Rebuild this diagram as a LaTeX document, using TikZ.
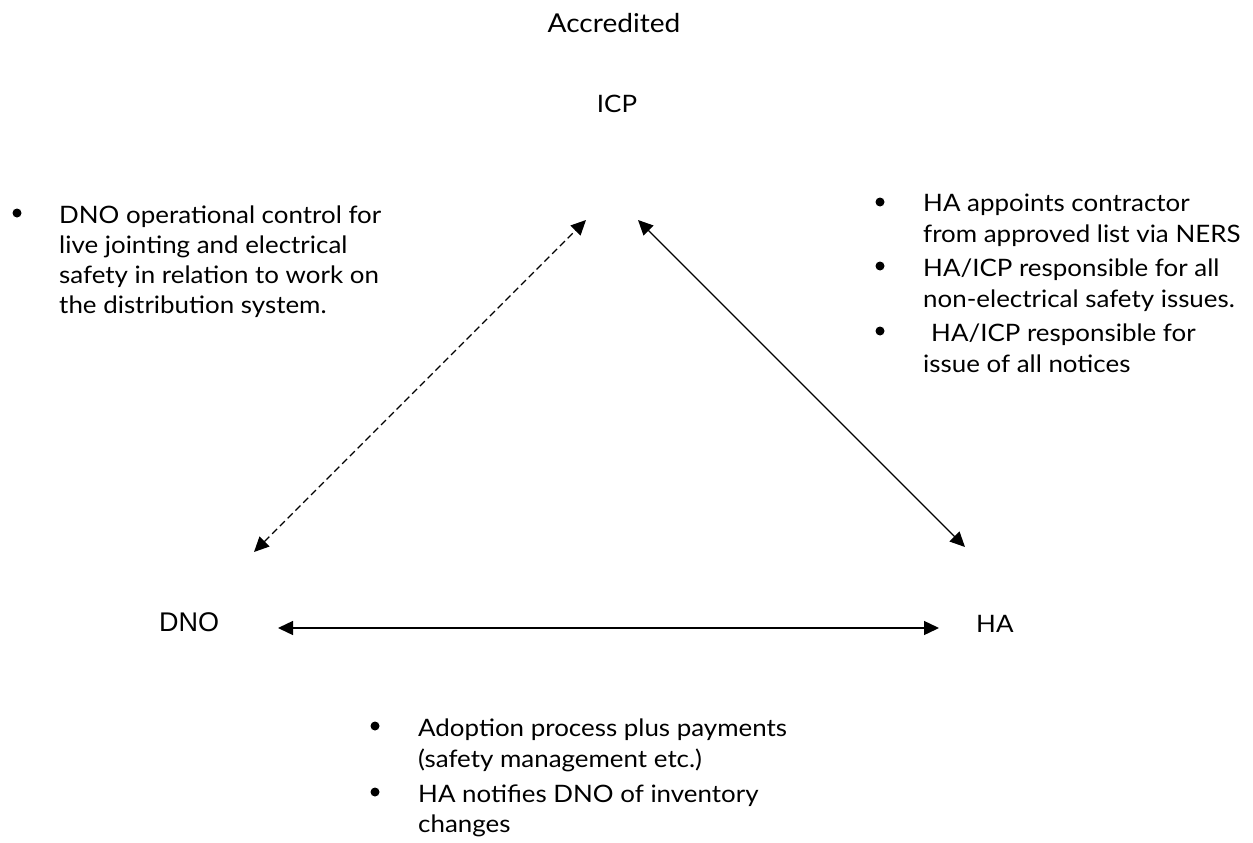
\documentclass[tikz,border=0pt]{standalone}
\usepackage{fontspec}
\setmainfont{Lato}[FakeStretch=1.08]
\newfontfamily\arialfont{Liberation Sans}
\usetikzlibrary{arrows.meta}
\begin{document}
\begin{tikzpicture}[x=1pt,y=-1pt,
  txt/.style={font=\fontsize{24}{30}\selectfont, inner sep=0pt, anchor=base west},
  bul/.style={circle, fill=black, inner sep=0pt, minimum size=9pt},
  conn/.style={line width=1.4pt, {Triangle[length=15pt,width=14pt]}-{Triangle[length=15pt,width=14pt]}},
  dashedconn/.style={conn, dash pattern=on 7pt off 4pt}]
\path[use as bounding box, fill=white] (0,0) rectangle (1253,843);

% main labels
\node[txt, anchor=base, font=\fontsize{26}{30}\selectfont] (acc) at (614,33) {Accredited};
\node[txt, anchor=base] (icp) at (617,112) {ICP};
\node[font=\arialfont\fontsize{27}{30}\selectfont, anchor=base west, inner sep=0pt] (dno) at (159,631) {DNO};
\node[txt] (ha) at (976,632) {HA};

% arrow end points
\coordinate (dA) at (254,552);
\coordinate (dB) at (586,220);
\coordinate (sA) at (638,220);
\coordinate (sB) at (965,547);
\coordinate (hA) at (278,628);
\coordinate (hB) at (939,628);

\draw[dashedconn] (dA) -- (dB);
\draw[conn] (sA) -- (sB);
\draw[conn] (hA) -- (hB);

% left block
\node[bul] (lb1) at (17,213) {};
\node[txt] (l1) at (59,223) {DNO operational control for};
\node[txt] (l2) at (59,253) {live jointing and electrical};
\node[txt] (l3) at (59,283) {safety in relation to work on};
\node[txt] (l4) at (59,313) {the distribution system.};

% right block
\node[bul] (rb1) at (880,202) {};
\node[txt] (r1) at (923,211) {HA appoints contractor};
\node[txt] (r2) at (923,242) {from approved list via NERS};
\node[bul] (rb2) at (880,266) {};
\node[txt] (r3) at (923,276) {HA/ICP responsible for all};
\node[txt] (r4) at (923,307) {non-electrical safety issues.};
\node[bul] (rb3) at (880,331) {};
\node[txt] (r5) at (931,341) {HA/ICP responsible for};
\node[txt] (r6) at (923,372) {issue of all notices};

% bottom block
\node[bul] (bb1) at (375,726) {};
\node[txt] (b1) at (418,736) {Adoption process plus payments};
\node[txt] (b2) at (418,767) {(safety management etc.)};
\node[bul] (bb2) at (375,792) {};
\node[txt] (b3) at (418,802) {HA notifies DNO of inventory};
\node[txt] (b4) at (418,832) {changes};
\end{tikzpicture}
\end{document}
